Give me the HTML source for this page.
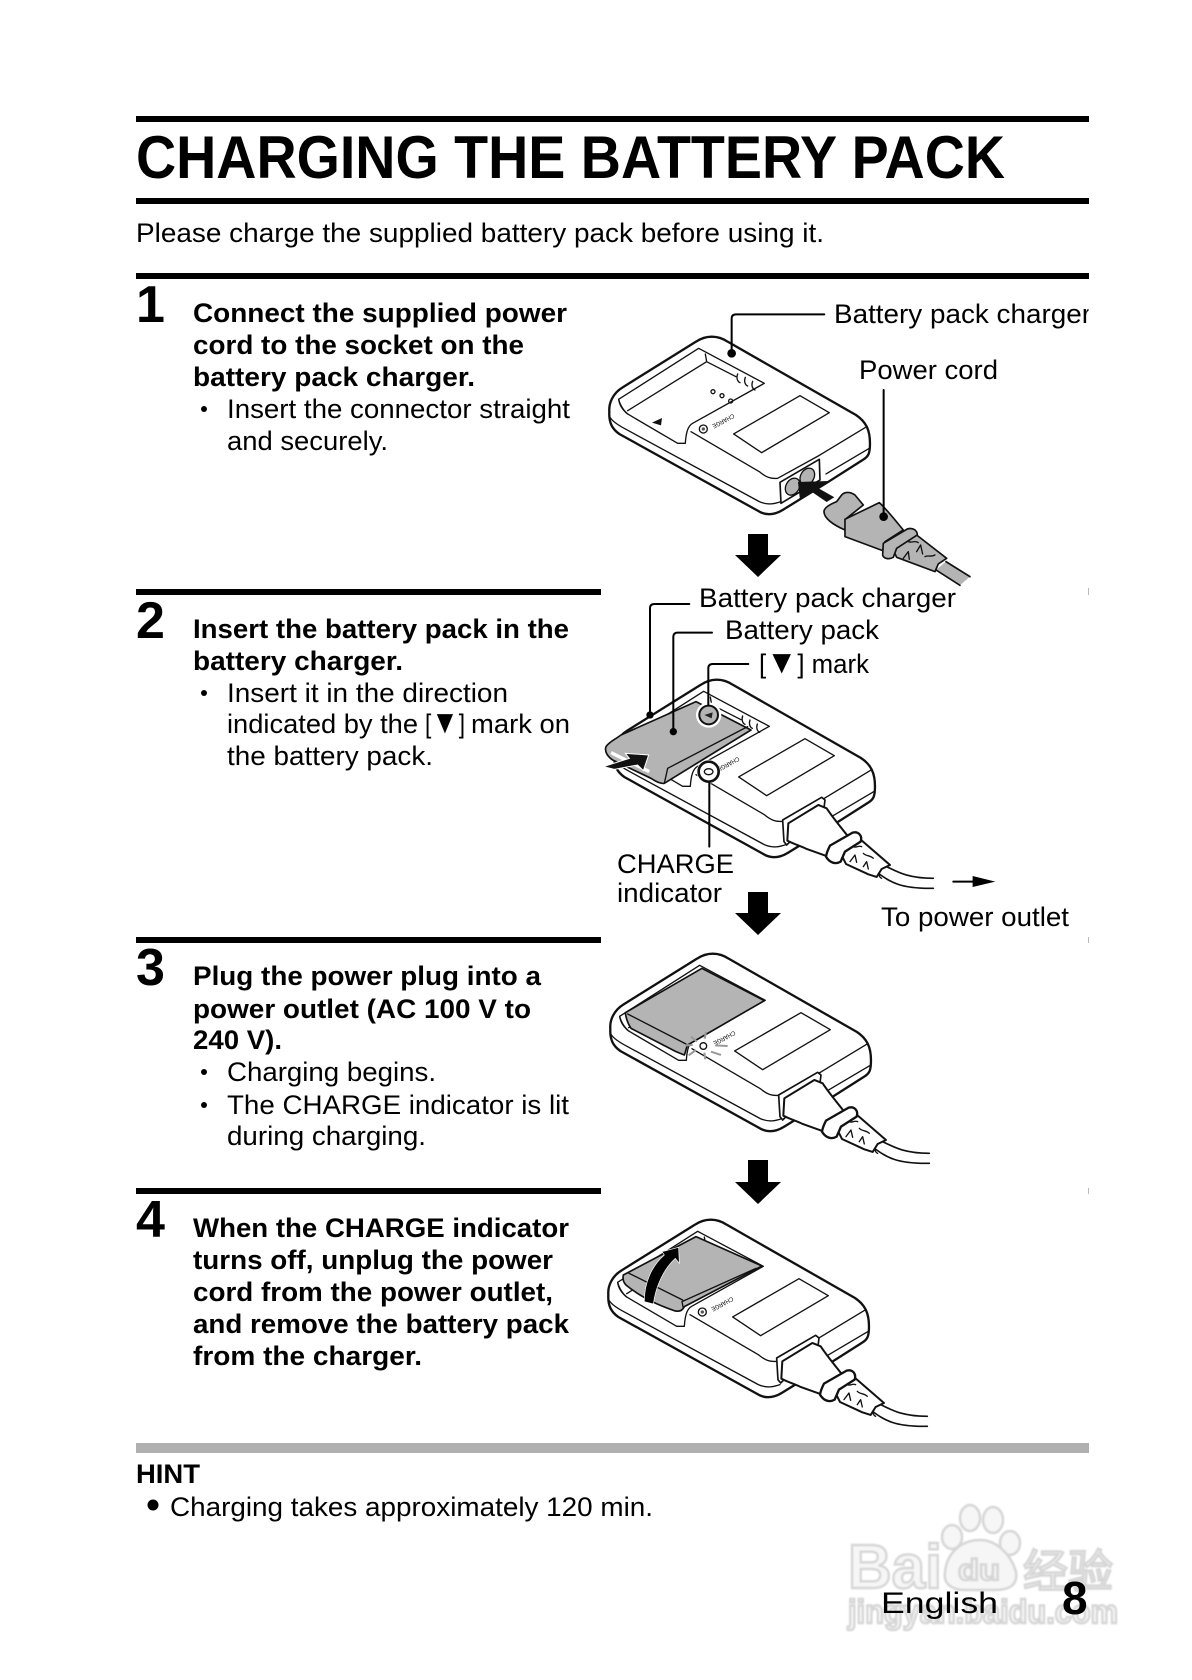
<!DOCTYPE html>
<html><head><meta charset="utf-8"><style>
html,body{margin:0;padding:0;background:#fff}
svg{display:block}
text{font-family:"Liberation Sans","Noto Sans CJK SC",sans-serif;fill:#000}
.b{font-weight:bold;font-size:27px}
.r{font-size:27px}
.o{fill:#fff;stroke:#111;stroke-width:7;stroke-linejoin:round;stroke-linecap:round}
.l{fill:none;stroke:#111;stroke-width:4;stroke-linejoin:round;stroke-linecap:round}
.n{fill:none;stroke:#000;stroke-width:6;stroke-linecap:round}
.g{fill:#b4b4b4;stroke:#111;stroke-width:5;stroke-linejoin:round}
.w text{fill:#f6f6f6;stroke:#d6d6d6;stroke-width:2.4}
</style></head><body>
<svg xmlns="http://www.w3.org/2000/svg" width="1192" height="1680" viewBox="0 0 1192 1680">
<defs>
<clipPath id="c1"><rect x="800" y="290" width="288.5" height="50"/></clipPath>
<filter id="bl" x="-5%" y="-5%" width="110%" height="110%"><feGaussianBlur stdDeviation="0.7"/></filter>
<g id="body">
<path class="o" d="M40,395C38,370 50,340 80,322L300,185C330,165 365,165 395,185L780,405C810,425 822,450 822,490C822,520 818,530 800,540L690,610L560,690C530,708 505,705 485,692L70,462C50,448 38,430 40,395Z"/>
<path class="l" d="M42,412C50,425 65,435 90,448L490,665C515,676 535,672 555,665"/>
<path class="l" d="M285,455L490,575C510,592 525,597 545,595L672,525L812,440"/>
<path class="l" d="M690,582L820,505"/>
<path class="o" style="stroke-width:4" d="M68,358L308,205L505,310L290,430C275,438 270,460 268,490L245,490L95,402C80,390 70,375 68,358Z"/>
<path class="l" d="M95,392L332,245L328,222M332,245L420,290M68,358C72,375 85,395 95,402"/>
<polygon points="413,462 612,347 700,398 497,518" class="o" style="stroke-width:4"/>
<circle cx="322" cy="447" r="12" class="l"/>
<circle cx="322" cy="447" r="5" fill="#555"/>
<text transform="translate(411,401) rotate(152)" font-size="19" textLength="72" lengthAdjust="spacingAndGlyphs">CHARGE</text>
</g>
<g id="plugged">
<path class="o" style="stroke-width:5" d="M548,465L665,397L675,405L672,430L560,540L552,530Z"/>
<path class="o" style="stroke-width:6" d="M565,475L655,420L680,430C700,460 725,490 745,515L705,535L685,575L620,552C600,542 580,537 562,527Z"/>
<path class="o" d="M835,625C870,650 900,672 1000,670M860,605C900,625 930,640 1000,640" style="stroke-width:5;fill:none"/>
<path class="o" style="stroke-width:6" d="M722,565L780,522L870,600L845,612L830,636L805,628L738,597Z"/>
<path class="o" style="stroke-width:7" d="M690,542L758,503C775,498 788,512 782,530L735,560L722,590C705,600 688,592 678,575C680,563 685,552 690,542Z"/>
<path class="l" d="M760,545C770,550 775,540 785,545M790,565C800,575 810,570 820,580M750,590L765,570L770,592M790,605L800,590L805,612"/>
<path class="l" d="M845,612C835,625 835,635 845,640"/>
</g>
</defs>
<rect width="1192" height="1680" fill="#fff"/>

<!-- watermark -->
<g class="w" filter="url(#bl)">
<text x="848" y="1588" font-size="62" font-weight="bold" textLength="94" lengthAdjust="spacingAndGlyphs">Bai</text>
<text x="1023" y="1587" font-size="45" textLength="90" lengthAdjust="spacingAndGlyphs">经验</text>
<text x="848" y="1623" font-size="33" font-weight="bold" textLength="270" lengthAdjust="spacingAndGlyphs">jingyan.baidu.com</text>
<g fill="#f6f6f6" stroke="#d6d6d6" stroke-width="2.5">
<ellipse cx="952" cy="1537" rx="10" ry="12"/><ellipse cx="970" cy="1518" rx="10" ry="13"/><ellipse cx="993" cy="1520" rx="10" ry="13"/><ellipse cx="1010" cy="1543" rx="10" ry="12"/>
<path d="M945,1572C947,1552 962,1540 980,1540C998,1540 1012,1557 1016,1572C1018,1586 1008,1590 995,1590L965,1590C952,1590 943,1584 945,1572Z"/>
</g>
<text x="958" y="1580" font-size="30" font-weight="bold" textLength="42" lengthAdjust="spacingAndGlyphs">du</text>
</g>

<!-- rules -->
<rect x="136" y="116" width="953" height="6"/>
<rect x="136" y="198" width="953" height="6"/>
<rect x="136" y="273" width="953" height="6"/>
<rect x="136" y="589" width="465" height="6"/>
<rect x="136" y="937" width="465" height="6"/>
<rect x="136" y="1188" width="465" height="6"/>
<rect x="136" y="1443" width="953" height="10" fill="#b0b0b0"/>
<g fill="#bbb"><rect x="1088" y="588" width="1" height="7"/><rect x="1088" y="937" width="1" height="6"/><rect x="1088" y="1188" width="1" height="6"/></g>

<text x="136" y="178" font-size="60" font-weight="bold" textLength="869" lengthAdjust="spacingAndGlyphs">CHARGING THE BATTERY PACK</text>
<text x="136" y="242" class="r" textLength="688" lengthAdjust="spacingAndGlyphs">Please charge the supplied battery pack before using it.</text>

<!-- step 1 -->
<text x="136" y="322" font-size="52" font-weight="bold">1</text>
<text x="193" y="322" class="b" textLength="374" lengthAdjust="spacingAndGlyphs">Connect the supplied power</text>
<text x="193" y="354" class="b" textLength="331" lengthAdjust="spacingAndGlyphs">cord to the socket on the</text>
<text x="193" y="386" class="b" textLength="282" lengthAdjust="spacingAndGlyphs">battery pack charger.</text>
<circle cx="204" cy="409" r="3"/>
<text x="227" y="418" class="r" textLength="343" lengthAdjust="spacingAndGlyphs">Insert the connector straight</text>
<text x="227" y="450" class="r" textLength="161" lengthAdjust="spacingAndGlyphs">and securely.</text>

<!-- step 2 -->
<text x="136" y="638" font-size="52" font-weight="bold">2</text>
<text x="193" y="638" class="b" textLength="376" lengthAdjust="spacingAndGlyphs">Insert the battery pack in the</text>
<text x="193" y="670" class="b" textLength="210" lengthAdjust="spacingAndGlyphs">battery charger.</text>
<circle cx="204" cy="693" r="3"/>
<text x="227" y="702" class="r" textLength="281" lengthAdjust="spacingAndGlyphs">Insert it in the direction</text>
<text x="227" y="733" class="r" textLength="191" lengthAdjust="spacingAndGlyphs">indicated by the</text>
<text x="425" y="733" class="r" textLength="40" lengthAdjust="spacingAndGlyphs">[<tspan font-size="33">▼</tspan>]</text>
<text x="471" y="733" class="r" textLength="99" lengthAdjust="spacingAndGlyphs">mark on</text>
<text x="227" y="765" class="r" textLength="206" lengthAdjust="spacingAndGlyphs">the battery pack.</text>

<!-- step 3 -->
<text x="136" y="985" font-size="52" font-weight="bold">3</text>
<text x="193" y="985" class="b" textLength="348" lengthAdjust="spacingAndGlyphs">Plug the power plug into a</text>
<text x="193" y="1018" class="b" textLength="338" lengthAdjust="spacingAndGlyphs">power outlet (AC 100 V to</text>
<text x="193" y="1049" class="b" textLength="89" lengthAdjust="spacingAndGlyphs">240 V).</text>
<circle cx="204" cy="1072" r="3"/>
<text x="227" y="1081" class="r" textLength="209" lengthAdjust="spacingAndGlyphs">Charging begins.</text>
<circle cx="204" cy="1105" r="3"/>
<text x="227" y="1114" class="r" textLength="342" lengthAdjust="spacingAndGlyphs">The CHARGE indicator is lit</text>
<text x="227" y="1145" class="r" textLength="199" lengthAdjust="spacingAndGlyphs">during charging.</text>

<!-- step 4 -->
<text x="136" y="1237" font-size="52" font-weight="bold">4</text>
<text x="193" y="1237" class="b" textLength="376" lengthAdjust="spacingAndGlyphs">When the CHARGE indicator</text>
<text x="193" y="1269" class="b" textLength="360" lengthAdjust="spacingAndGlyphs">turns off, unplug the power</text>
<text x="193" y="1301" class="b" textLength="360" lengthAdjust="spacingAndGlyphs">cord from the power outlet,</text>
<text x="193" y="1333" class="b" textLength="376" lengthAdjust="spacingAndGlyphs">and remove the battery pack</text>
<text x="193" y="1365" class="b" textLength="229" lengthAdjust="spacingAndGlyphs">from the charger.</text>

<!-- hint -->
<text x="136" y="1483" class="b" textLength="64" lengthAdjust="spacingAndGlyphs">HINT</text>
<circle cx="153" cy="1505" r="5.5"/>
<text x="170" y="1516" class="r" textLength="483" lengthAdjust="spacingAndGlyphs">Charging takes approximately 120 min.</text>

<!-- footer -->
<text x="881" y="1613" font-size="30" textLength="117" lengthAdjust="spacingAndGlyphs">English</text>
<text x="1062" y="1614" font-size="46" font-weight="bold">8</text>

<!-- down arrows -->
<polygon points="748,534 768,534 768,555 781,555 758,577 735,555 748,555"/>
<polygon points="748,892 768,892 768,913 781,913 758,935 735,913 748,913"/>
<polygon points="748,1160 768,1160 768,1182 781,1182 758,1204 735,1182 748,1182"/>

<!-- ILLUSTRATION 1 -->
<g transform="translate(596,280) scale(.3333)">
<use href="#body"/>
<path class="l" d="M425,282C420,295 425,305 432,308M448,292C443,305 448,315 455,318M470,304C465,317 470,327 477,330"/>
<polygon points="168,428 198,414 195,436" fill="#111"/>
<circle cx="351" cy="335" r="6" class="l"/><circle cx="378" cy="347" r="6" class="l"/><circle cx="404" cy="363" r="6" class="l"/>
<polygon class="o" style="stroke-width:5" points="552,607 670,538 672,600 555,670"/>
<ellipse cx="590" cy="620" rx="20" ry="27" transform="rotate(30 590 620)" fill="#b4b4b4" stroke="#111" stroke-width="4"/>
<ellipse cx="634" cy="590" rx="20" ry="27" transform="rotate(30 634 590)" fill="#b4b4b4" stroke="#111" stroke-width="4"/>
<polygon points="606,606 697,603 668,625 715,652 692,666 648,636 612,660" fill="#111"/>
<!-- cord -->
<polygon points="1050,845 1122,890 1092,916 1020,870" fill="#b4b4b4"/>
<path class="l" style="stroke-width:5" d="M1050,845L1122,890M1020,870L1092,916"/>
<g transform="translate(612,540)">
<path class="g" d="M72,155C72,145 85,135 110,125L125,105C135,95 150,95 165,105L190,135L140,175L135,210C100,195 72,175 72,155Z"/>
<path class="g" d="M280,270L350,225L440,295L415,312L405,335L290,292Z"/>
<path class="g" d="M135,178L238,128C262,150 285,180 310,210L255,245L248,272L135,230Z"/>
<path class="g" d="M250,250L322,207C340,202 352,212 352,225L290,265L280,292C265,300 250,295 248,285Z"/>
<path class="l" d="M325,245C335,250 345,240 355,248M350,275L362,255L368,282M310,295L325,275L328,298M375,290C385,285 395,292 405,285"/>
</g>
<path class="n" d="M685,103L420,103Q407,103 407,116L407,220"/>
<circle cx="407" cy="220" r="13" fill="#000"/>
<path class="n" d="M863,330L863,710"/>
<circle cx="863" cy="710" r="13" fill="#000"/>
</g>
<text x="834" y="323" class="r" textLength="257" lengthAdjust="spacingAndGlyphs" clip-path="url(#c1)">Battery pack charger</text>
<text x="859" y="379" class="r" textLength="139" lengthAdjust="spacingAndGlyphs">Power cord</text>

<!-- ILLUSTRATION 2 -->
<g transform="translate(601,623) scale(.3333)"><use href="#body"/></g>
<g transform="translate(600,665) scale(.3333)"><use href="#plugged"/></g>
<g transform="translate(596,580) scale(.3333)">
<ellipse cx="392" cy="438" rx="10" ry="6" class="l"/><ellipse cx="420" cy="452" rx="10" ry="6" class="l"/>
<path class="l" d="M440,408C436,420 440,430 447,433M462,420C458,432 462,442 469,445M484,432C480,444 484,454 491,457"/>
<path class="g" d="M30,500C40,485 55,480 75,465L300,365L465,450L205,610C195,612 180,605 165,595L50,540C35,530 25,515 30,500Z"/>
<path class="l" d="M215,565L455,440M205,610L215,565"/>
<path d="M45,518L160,575" stroke="#fff" stroke-width="10"/>
<polygon points="22,560 100,535 88,520 158,525 142,572 125,555 55,568" fill="#111" stroke="#fff" stroke-width="3"/>
<circle cx="338" cy="405" r="38" fill="#fff"/>
<circle cx="338" cy="405" r="28" fill="#b4b4b4" stroke="#111" stroke-width="6"/>
<polygon points="325,405 350,397 347,415" fill="#222"/>
<circle cx="338" cy="575" r="36" fill="#fff"/>
<circle cx="338" cy="575" r="30" fill="#fff" stroke="#111" stroke-width="8"/>
<ellipse cx="338" cy="575" rx="13" ry="9" fill="none" stroke="#111" stroke-width="4"/>
<path class="n" d="M280,72L175,72Q162,72 162,85L162,405"/>
<circle cx="162" cy="405" r="11" fill="#000"/>
<path class="n" d="M348,158L245,158Q232,158 232,171L232,455"/>
<circle cx="232" cy="455" r="11" fill="#000"/>
<path class="n" d="M457,252L350,252Q337,252 337,265L337,375"/>
<path class="n" d="M340,610L340,800"/>
<path class="n" d="M1072,905L1140,905"/>
<polygon points="1130,888 1198,905 1130,921"/>
</g>
<text x="699" y="607" class="r" textLength="257" lengthAdjust="spacingAndGlyphs">Battery pack charger</text>
<text x="725" y="639" class="r" textLength="154" lengthAdjust="spacingAndGlyphs">Battery pack</text>
<text x="759" y="673" class="r" textLength="110" lengthAdjust="spacingAndGlyphs">[<tspan font-size="33">▼</tspan>] mark</text>
<text x="617" y="873" class="r" textLength="117" lengthAdjust="spacingAndGlyphs">CHARGE</text>
<text x="617" y="902" class="r" textLength="105" lengthAdjust="spacingAndGlyphs">indicator</text>
<text x="881" y="926" class="r" textLength="188" lengthAdjust="spacingAndGlyphs">To power outlet</text>

<!-- ILLUSTRATION 3 -->
<g transform="translate(597,897) scale(.3333)"><use href="#body"/></g>
<g transform="translate(596,940) scale(.3333)">
<use href="#plugged"/>
<path class="g" d="M88,218L318,85L505,182L275,315C270,325 268,340 265,345L240,335L105,265C95,250 90,235 88,218Z"/>
<path class="l" d="M95,222L270,312"/>
<circle cx="322" cy="318" r="22" fill="#fff"/>
<circle cx="322" cy="318" r="10" class="l"/>
<path d="M285,290L303,305M330,276L326,296M358,316L395,318M345,335L375,345M325,338L328,358M300,330L278,346M290,315L268,316" stroke="#999" stroke-width="6"/>
</g>

<!-- ILLUSTRATION 4 -->
<g transform="translate(595,1163) scale(.3333)"><use href="#body"/></g>
<g transform="translate(594,1203) scale(.3333)"><use href="#plugged"/></g>
<g transform="translate(596,1200) scale(.3333)">
<path class="g" d="M82,225L300,110L498,198L265,320C258,335 245,335 235,332C170,310 120,280 90,255C80,245 80,235 82,225Z"/>
<path class="l" d="M95,218L260,300M258,305L480,205M258,305L262,325"/>
<path d="M145,305C145,250 165,200 205,165L198,155L248,142L250,190L238,175C205,205 180,255 172,312Z" fill="#000" stroke="#fff" stroke-width="2"/>
</g>
</svg>
</body></html>
